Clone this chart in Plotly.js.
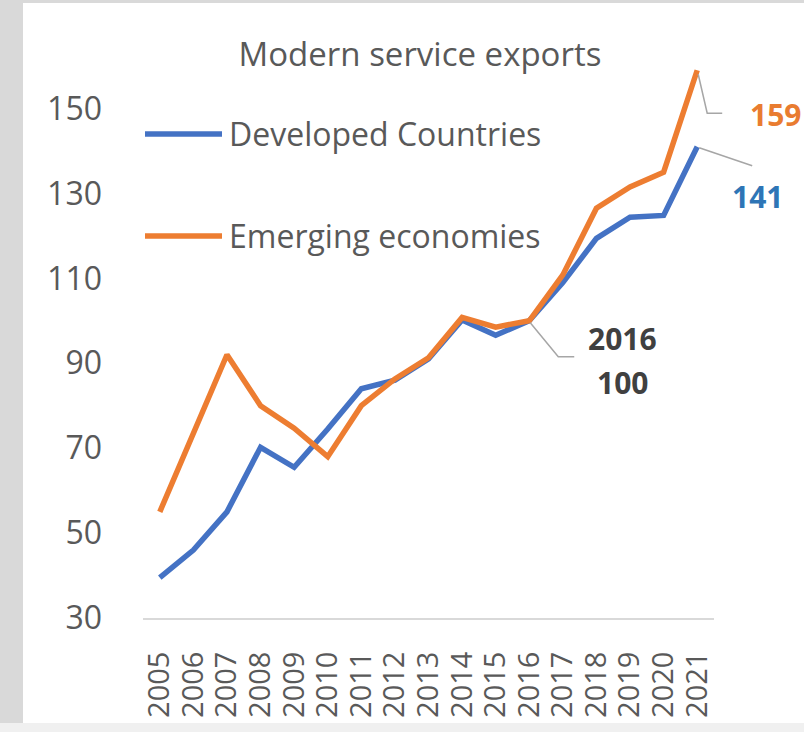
<!DOCTYPE html>
<html>
<head>
<meta charset="utf-8">
<script src="https://cdn.plot.ly/plotly-3.0.1.min.js"></script>
<style>
html,body{margin:0;padding:0;background:#fff;}
#chart{width:804px;height:732px;}
</style>
</head>
<body>
<div id="chart"></div>
<script>
// ---- data ----
const years = ["2005","2006","2007","2008","2009","2010","2011","2012","2013","2014","2015","2016","2017","2018","2019","2020","2021"];
const developed = [39.5, 46, 55, 70.2, 65.5, 74.5, 84, 86, 91, 100.2, 96.6, 100, 109, 119.4, 124.4, 124.8, 141];
const emerging  = [55, 73.5, 92, 80, 74.7, 68, 80, 86.3, 91.3, 100.8, 98.5, 100, 110.8, 126.5, 131.5, 135, 159];
const seriesNames = ["Developed Countries", "Emerging economies"];
const yTicks = [30, 50, 70, 90, 110, 130, 150];
const chartTitle = "Modern service exports";

// ---- style ----
const BLUE = "#4472C4", ORANGE = "#ED7D31", GREY_TXT = "#595959";
const FONT = "Open Sans, sans-serif";
const W = 804, H = 732;
const M = {l: 143, r: 90, t: 66, b: 114};
const yRange = [30, 160];
const xRange = [-0.5, years.length - 0.5];
const plotW = W - M.l - M.r, plotH = H - M.t - M.b;

// helpers: convert pixel offsets to paper coordinates
const pxX = px => (px - M.l) / plotW;
const pxY = py => (H - M.b - py) / plotH;
const dataPxX = i => M.l + (i - xRange[0]) / (xRange[1] - xRange[0]) * plotW;
const dataPxY = v => H - M.b - (v - yRange[0]) / (yRange[1] - yRange[0]) * plotH;

const last = years.length - 1;
const i2016 = years.indexOf("2016");

const traces = [
  {x: years, y: developed, name: seriesNames[0], type: "scatter", mode: "lines",
   line: {color: BLUE, width: 5.5}, cliponaxis: false},
  {x: years, y: emerging, name: seriesNames[1], type: "scatter", mode: "lines",
   line: {color: ORANGE, width: 5.5}, cliponaxis: false}
];

// leader lines (paper coords, derived from data points + pixel offsets)
function path(points){
  return points.map((p, k) => (k ? "L" : "M") + pxX(p[0]) + "," + pxY(p[1])).join(" ");
}
const pE = [dataPxX(last), dataPxY(emerging[last])];
const pD = [dataPxX(last), dataPxY(developed[last])];
const p16 = [dataPxX(i2016), dataPxY(developed[i2016])];

const shapes = [
  // frame strips
  {type: "rect", xref: "paper", yref: "paper", x0: pxX(0), x1: pxX(23), y0: pxY(H), y1: pxY(0),
   fillcolor: "#d9d9d9", line: {width: 0}, layer: "below"},
  {type: "rect", xref: "paper", yref: "paper", x0: pxX(0), x1: pxX(W), y0: pxY(3), y1: pxY(0),
   fillcolor: "#d9d9d9", line: {width: 0}, layer: "below"},
  {type: "rect", xref: "paper", yref: "paper", x0: pxX(0), x1: pxX(W), y0: pxY(H), y1: pxY(723),
   fillcolor: "#f0f0f0", line: {width: 0}, layer: "below"},
  // legend lines
  {type: "line", xref: "paper", yref: "paper", x0: pxX(145), x1: pxX(222), y0: pxY(134), y1: pxY(134),
   line: {color: BLUE, width: 5.5}},
  {type: "line", xref: "paper", yref: "paper", x0: pxX(145), x1: pxX(222), y0: pxY(236), y1: pxY(236),
   line: {color: ORANGE, width: 5.5}},
  // leaders
  {type: "path", xref: "paper", yref: "paper",
   path: path([[pE[0] + 1, pE[1] + 4], [pE[0] + 10, pE[1] + 43], [pE[0] + 25, pE[1] + 43]]),
   line: {color: "#a6a6a6", width: 1.5}},
  {type: "path", xref: "paper", yref: "paper",
   path: path([[pD[0] + 2, pD[1] + 1], [pD[0] + 55, pD[1] + 19]]),
   line: {color: "#a6a6a6", width: 1.5}},
  {type: "path", xref: "paper", yref: "paper",
   path: path([[p16[0] + 1, p16[1] + 2], [p16[0] + 29, p16[1] + 36], [p16[0] + 45, p16[1] + 36]]),
   line: {color: "#a6a6a6", width: 1.5}}
];

const annotations = [
  {xref: "paper", yref: "paper", x: pxX(227), y: pxY(133), xanchor: "left", yanchor: "middle",
   text: seriesNames[0], showarrow: false, font: {family: FONT, size: 32, color: GREY_TXT}},
  {xref: "paper", yref: "paper", x: pxX(227), y: pxY(235), xanchor: "left", yanchor: "middle",
   text: seriesNames[1], showarrow: false, font: {family: FONT, size: 32, color: GREY_TXT}},
  {xref: "paper", yref: "paper", x: pxX(pE[0] + 78), y: pxY(pE[1] + 44), xanchor: "center", yanchor: "middle",
   text: "<b>" + Math.round(emerging[last]) + "</b>", showarrow: false, font: {family: FONT, size: 30, color: "#E97C30"}},
  {xref: "paper", yref: "paper", x: pxX(pD[0] + 60), y: pxY(pD[1] + 50), xanchor: "center", yanchor: "middle",
   text: "<b>" + Math.round(developed[last]) + "</b>", showarrow: false, font: {family: FONT, size: 30, color: "#2E75B6"}},
  {xref: "paper", yref: "paper", x: pxX(p16[0] + 93), y: pxY(p16[1] + 18), xanchor: "center", yanchor: "middle",
   text: "<b>" + years[i2016] + "</b>", showarrow: false, font: {family: FONT, size: 30, color: "#404040"}},
  {xref: "paper", yref: "paper", x: pxX(p16[0] + 93), y: pxY(p16[1] + 62), xanchor: "center", yanchor: "middle",
   text: "<b>" + developed[i2016] + "</b>", showarrow: false, font: {family: FONT, size: 30, color: "#404040"}}
];

const layout = {
  width: W, height: H,
  margin: M,
  paper_bgcolor: "#ffffff", plot_bgcolor: "#ffffff",
  showlegend: false,
  title: {text: chartTitle, x: 420 / W, xanchor: "center", y: 1 - 54 / H, yanchor: "middle",
          font: {family: FONT, size: 33, color: GREY_TXT}},
  xaxis: {type: "category", range: xRange, tickangle: -90, showgrid: false, zeroline: false,
          showline: true, linecolor: "#d9d9d9", linewidth: 2, ticks: "",
          tickmode: "array", tickvals: years, ticktext: years,
          ticklabelstandoff: 20,
          tickfont: {family: FONT, size: 29, color: GREY_TXT}},
  yaxis: {range: yRange, tickvals: yTicks, ticktext: yTicks.map(String), showgrid: false, zeroline: false,
          showline: false, ticks: "", ticklabelstandoff: 40,
          tickfont: {family: FONT, size: 32, color: GREY_TXT}},
  shapes: shapes,
  annotations: annotations
};

Plotly.newPlot("chart", traces, layout, {displayModeBar: false, staticPlot: true});
</script>
</body>
</html>
